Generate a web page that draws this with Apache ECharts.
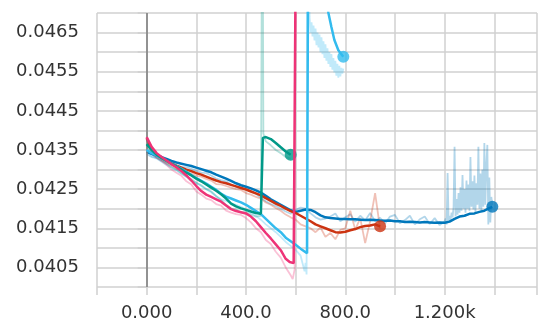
<!DOCTYPE html>
<html>
<head>
<meta charset="utf-8">
<script src="https://cdn.jsdelivr.net/npm/echarts@6/dist/echarts.min.js"></script>
<style>
  html, body { margin: 0; padding: 0; background: #fff; }
  #chart { width: 540px; height: 323px; }
</style>
</head>
<body>
<div id="chart"></div>
<script>
// Axis ticks
const xTickValues = [0, 400, 800, 1200];
const xTickTexts = ['0.000', '400.0', '800.0', '1.200k'];
const yTickLabels = ['0.0405', '0.0415', '0.0425', '0.0435', '0.0445', '0.0455', '0.0465'];

// Run: blue (longest)
const blueSteps = [0,20,40,60,80,100,120,140,160,180,200,220,240,260,280,300,320,340,360,380,400,420,440,460,480,500,520,540,560,580,600,620,640,660,680,700,720,740,760,780,800,820,840,860,880,900,920,940,960,980,1000,1020,1040,1060,1080,1100,1120,1140,1160,1180,1200,1220,1240,1260,1280,1300,1320,1340,1360,1376,1392];
const blueSmooth = [.04345,.04340,.04336,.04332,.04327,.04322,.04318,.04315,.04312,.04309,.04305,.04301,.04297,.04293,.04287,.04282,.04277,.04271,.04265,.04260,.04256,.04252,.04247,.04241,.04233,.04224,.04217,.04210,.04203,.04196,.04192,.04195,.04198,.04197,.04191,.04183,.04178,.04176,.04175,.04174,.04174,.04173,.04173,.04172,.04171,.04172,.04171,.04170,.04169,.04170,.04168,.04168,.04166,.04167,.04166,.04165,.04166,.04165,.04164,.04165,.04164,.04167,.04174,.04180,.04182,.04187,.04188,.04192,.04195,.04200,.04205];
const blueRawSteps = [0,20,40,60,80,100,120,140,160,180,200,220,240,260,280,300,320,340,360,380,400,420,440,460,480,500,520,540,560,580,600,620,640,660,680,700,720,740,760,780,800,820,840,860,880,900,920,940,960,980,1000,1020,1040,1060,1080,1100,1120,1140,1160,1180,1200,1204,1208,1212,1216,1220,1224,1228,1232,1236,1240,1244,1248,1252,1256,1260,1264,1268,1272,1276,1280,1284,1288,1292,1296,1300,1304,1308,1312,1316,1320,1324,1328,1332,1336,1340,1344,1348,1352,1356,1360,1364,1368,1372,1376,1380,1384,1388,1392];
const blueRaw = [.04340,.04332,.04330,.04324,.04318,.04313,.04310,.04307,.04306,.04302,.04297,.04292,.04291,.04285,.04277,.04273,.04270,.04262,.04256,.04253,.04250,.04245,.04238,.04228,.04219,.04212,.04207,.04200,.04193,.04187,.04197,.04203,.04200,.04188,.04178,.04172,.04175,.04180,.04188,.04168,.04178,.04186,.04167,.04182,.04170,.04189,.04168,.04177,.04162,.04180,.04184,.04163,.04171,.04182,.04160,.04173,.04180,.04161,.04176,.04158,.04168,.04175,.04160,.04291,.04165,.04182,.04170,.04190,.04178,.04205,.04358,.04180,.04225,.04185,.04240,.04190,.04255,.04195,.04286,.04200,.04250,.04190,.04272,.04200,.04262,.04195,.04332,.04205,.04270,.04198,.04285,.04190,.04265,.04210,.04358,.04200,.04290,.04195,.04300,.04205,.04368,.04210,.04310,.04363,.04160,.04280,.04165,.04230,.04210];

// Run: red
const redSteps = [0,20,40,60,80,100,120,140,160,180,200,220,240,260,280,300,320,340,360,380,400,420,440,460,480,500,520,540,560,580,600,620,640,660,680,700,720,740,760,780,800,820,840,860,880,900,920,940];
const redSmooth = [.04380,.04352,.04338,.04330,.04322,.04316,.04310,.04305,.04300,.04296,.04291,.04287,.04282,.04277,.04272,.04268,.04265,.04261,.04257,.04253,.04249,.04244,.04239,.04234,.04227,.04220,.04213,.04207,.04200,.04194,.04189,.04182,.04175,.04168,.04160,.04155,.04150,.04145,.04140,.04139,.04141,.04145,.04148,.04153,.04156,.04157,.04160,.04155];
const redRaw = [.04375,.04345,.04332,.04325,.04315,.04310,.04302,.04298,.04292,.04290,.04284,.04282,.04276,.04272,.04263,.04262,.04258,.04254,.04250,.04248,.04240,.04236,.04230,.04226,.04216,.04210,.04202,.04195,.04185,.04178,.04172,.04160,.04155,.04150,.04140,.04152,.04128,.04138,.04122,.04146,.04150,.04195,.04146,.04176,.04112,.04168,.04240,.04150];

// Run: teal
const tealSteps = [0,20,40,60,80,100,120,140,160,180,200,220,240,260,280,300,320,340,360,380,400,420,440,460,464,468,480,500,520,540,560,580];
const tealSmooth = [.04365,.04350,.04338,.04330,.04323,.04315,.04308,.04300,.04292,.04285,.04277,.04270,.04262,.04254,.04246,.04237,.04226,.04213,.04206,.04201,.04197,.04193,.04189,.04187,.04186,.04381,.04383,.04378,.04368,.04357,.04346,.04338];
const tealRawSteps = [0,20,40,60,80,100,120,140,160,180,200,220,240,260,280,300,320,340,360,380,400,420,440,460,464,466,470,480,500,520,540,560,580];
const tealRaw = [.04360,.04340,.04330,.04322,.04315,.04306,.04300,.04290,.04282,.04276,.04266,.04260,.04250,.04244,.04232,.04222,.04210,.04200,.04198,.04190,.04192,.04185,.04180,.04182,.04178,.05200,.04392,.04372,.04362,.04350,.04342,.04332,.04328];

// Run: cyan
const cyanSteps = [0,20,40,60,80,100,120,140,160,180,200,220,240,260,280,300,320,340,360,380,400,420,440,460,480,500,520,540,560,580,600,620,646,652,680,710,732,744,756,772,792];
const cyanSmooth = [.04350,.04342,.04336,.04329,.04322,.04316,.04309,.04302,.04294,.04286,.04278,.04271,.04264,.04256,.04248,.04238,.04231,.04226,.04221,.04216,.04210,.04202,.04194,.04186,.04174,.04162,.04150,.04140,.04126,.04117,.04108,.04098,.04086,.05200,.05000,.04820,.04700,.04664,.04631,.04605,.04588];
const cyanRawSteps = [0,20,40,60,80,100,120,140,160,180,200,220,240,260,280,300,320,340,360,380,400,420,440,460,480,500,520,540,560,580,600,620,636,640,644,648,652,656,660,664,668,672,676,680,684,688,692,696,700,704,708,712,716,720,724,728,732,736,740,744,748,752,756,760,764,768,772,776,780,784,788,792];
const cyanRaw = [.04345,.04335,.04328,.04320,.04312,.04305,.04298,.04290,.04282,.04272,.04266,.04258,.04250,.04242,.04232,.04224,.04220,.04214,.04210,.04205,.04198,.04190,.04182,.04172,.04160,.04150,.04140,.04128,.04115,.04105,.04095,.04080,.04040,.04062,.04032,.05100,.05000,.04690,.04650,.04676,.04640,.04668,.04630,.04660,.04618,.04650,.04612,.04645,.04600,.04638,.04595,.04628,.04585,.04620,.04578,.04610,.04570,.04600,.04562,.04595,.04555,.04585,.04548,.04578,.04540,.04570,.04535,.04565,.04538,.04560,.04545,.04558];

// Run: magenta
const magentaSteps = [0,20,40,60,80,100,120,140,160,180,200,220,240,260,280,300,320,340,360,380,400,420,440,460,480,500,520,540,560,576,592,600,604];
const magentaSmooth = [.04383,.04358,.04342,.04332,.04323,.04314,.04306,.04296,.04285,.04272,.04258,.04245,.04236,.04230,.04224,.04218,.04208,.04199,.04194,.04191,.04188,.04180,.04168,.04153,.04138,.04124,.04109,.04094,.04072,.04064,.04061,.04059,.05200];
const magentaRawSteps = [0,20,40,60,80,100,120,140,160,180,200,220,240,260,280,300,320,340,360,380,400,420,440,460,480,500,520,540,560,580,588,596,602];
const magentaRaw = [.04380,.04340,.04330,.04322,.04312,.04300,.04292,.04284,.04270,.04262,.04244,.04236,.04226,.04222,.04212,.04208,.04195,.04190,.04186,.04184,.04176,.04165,.04150,.04140,.04120,.04110,.04090,.04075,.04050,.04030,.04020,.04045,.05200];

const pairs = (xs, ys) => xs.map((x, i) => [x, ys[i]]);

const runs = [
  { color: '#0077bb', steps: blueSteps, smooth: blueSmooth, rawSteps: blueRawSteps, raw: blueRaw },
  { color: '#cc3311', steps: redSteps, smooth: redSmooth, rawSteps: redSteps, raw: redRaw },
  { color: '#33bbee', steps: cyanSteps, smooth: cyanSmooth, rawSteps: cyanRawSteps, raw: cyanRaw },
  { color: '#009988', steps: tealSteps, smooth: tealSmooth, rawSteps: tealRawSteps, raw: tealRaw },
  { color: '#ee3377', steps: magentaSteps, smooth: magentaSmooth, rawSteps: magentaRawSteps, raw: magentaRaw }
];

const gridColor = '#d0d0d0';
const series = [];

// faint raw traces underneath
runs.forEach(r => {
  series.push({
    type: 'line', data: pairs(r.rawSteps, r.raw), showSymbol: false, symbol: 'none',
    lineStyle: { color: r.color, width: 1.8, opacity: 0.3 }, z: 2, silent: true
  });
});
// smoothed traces
runs.forEach((r, i) => {
  series.push({
    type: 'line', data: pairs(r.steps, r.smooth), showSymbol: false, symbol: 'none',
    lineStyle: { color: r.color, width: 2.5 }, z: 3 + i, silent: true
  });
});
// end-of-run markers
runs.forEach((r, i) => {
  const n = r.steps.length - 1;
  series.push({
    type: 'scatter', data: [[r.steps[n], r.smooth[n]]], symbolSize: 12,
    itemStyle: { color: r.color }, z: 3 + i, clip: true, silent: true
  });
});
// zero line on the step axis
series.push({
  type: 'line', data: [], silent: true,
  markLine: {
    silent: true, symbol: 'none', label: { show: false },
    lineStyle: { color: '#7a7a7a', width: 1.5, type: 'solid' },
    data: [{ xAxis: 0 }]
  }
});

const chart = echarts.init(document.getElementById('chart'), null, { renderer: 'canvas' });
chart.setOption({
  animation: false,
  backgroundColor: '#ffffff',
  grid: { left: 97, right: 0, top: 13, bottom: 36 },
  xAxis: {
    type: 'value', min: -200, max: 1572, interval: 200,
    axisLine: { show: false },
    axisTick: { show: true, length: 8, lineStyle: { color: gridColor, width: 1.5 } },
    splitLine: { show: true, lineStyle: { color: gridColor, width: 1.5 } },
    axisLabel: {
      margin: 17, color: '#333', fontFamily: 'DejaVu Sans', fontSize: 18,
      showMinLabel: true, showMaxLabel: true,
      formatter: v => {
        const i = xTickValues.indexOf(Math.round(v));
        return i >= 0 ? xTickTexts[i] : '';
      }
    }
  },
  yAxis: {
    type: 'value', min: 0.040, max: 0.047, interval: 0.0005,
    axisLine: { show: false },
    axisTick: { show: true, length: 9, lineStyle: { color: gridColor, width: 1.5 } },
    splitLine: { show: true, lineStyle: { color: gridColor, width: 1.5 } },
    axisLabel: {
      margin: 18, color: '#333', fontFamily: 'DejaVu Sans', fontSize: 18,
      formatter: v => {
        const s = v.toFixed(4);
        return yTickLabels.includes(s) ? s : '';
      }
    }
  },
  series: series
});
</script>
</body>
</html>
